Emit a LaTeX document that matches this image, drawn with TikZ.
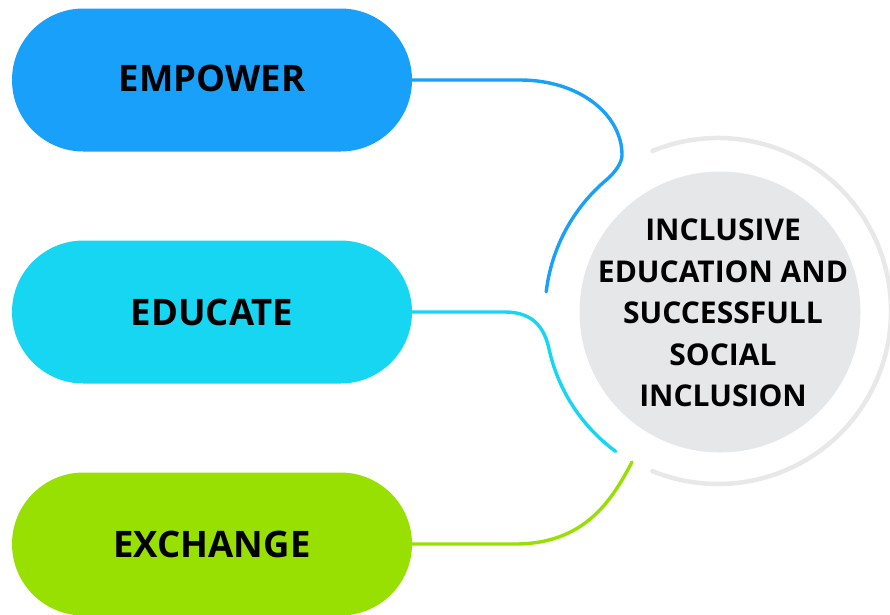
\documentclass[tikz,border=0pt]{standalone}
\usepackage{fontspec}
\setmainfont{Open Sans}
\definecolor{cblue}{HTML}{18A0FB}
\definecolor{ccyan}{HTML}{16D6F2}
\definecolor{cgreen}{HTML}{98E002}
\definecolor{cgray}{HTML}{E6E7E9}
\definecolor{cring}{HTML}{E8E8E9}
\begin{document}
\begin{tikzpicture}[x=1pt,y=-1pt,
  pill/.style={rectangle, rounded corners=71.5pt, minimum width=400pt, minimum height=143pt,
    inner sep=0pt, font=\fontsize{36.5}{40}\selectfont\bfseries, text=black},
  conn/.style={line width=3.4pt, line cap=round}]
\useasboundingbox (0,0) rectangle (890,614);
\clip (0,0) rectangle (890,614);
% ring
\draw[cring, line width=4.5pt, line cap=round] (718,311) ++(-112.3:173) arc[start angle=-112.3, end angle=112.3, radius=173];
% center
\node[circle, fill=cgray, minimum size=281pt, inner sep=0pt] (ctr) at (720,312) {};
\node[align=center, font=\fontsize{30}{41.5}\selectfont\bfseries, text=black] (ctrtext) at (723,313)
  {INCLUSIVE\\EDUCATION AND\\SUCCESSFULL\\SOCIAL\\INCLUSION};
% pills
\node[pill, fill=cblue] (emp) at (212,80) {\raisebox{3pt}{EMPOWER}};
\node[pill, fill=ccyan] (edu) at (212,312) {EDUCATE};
\node[pill, fill=cgreen] (exc) at (212,544) {\raisebox{-3pt}{EXCHANGE}};
% connectors
\draw[conn, cblue] (emp.east) -- (520,80) .. controls (580,80) and (622,115) .. (622,155)
   .. controls (622,163) and (614.5,173) .. (606.8,179.5)
   arc[start angle=230, end angle=186.7, radius=173] coordinate (bluend);
\draw[conn, ccyan] (edu.east) -- (505,312) .. controls (535,312) and (545,330) .. (549.2,349.7)
   arc[start angle=167.4, end angle=126.3, radius=173] coordinate (cyanend);
\coordinate (greenend) at (632,462);
\draw[conn, cgreen] (exc.east) -- (515,544) .. controls (585,544) and (612,500) .. (greenend);
\end{tikzpicture}
\end{document}
